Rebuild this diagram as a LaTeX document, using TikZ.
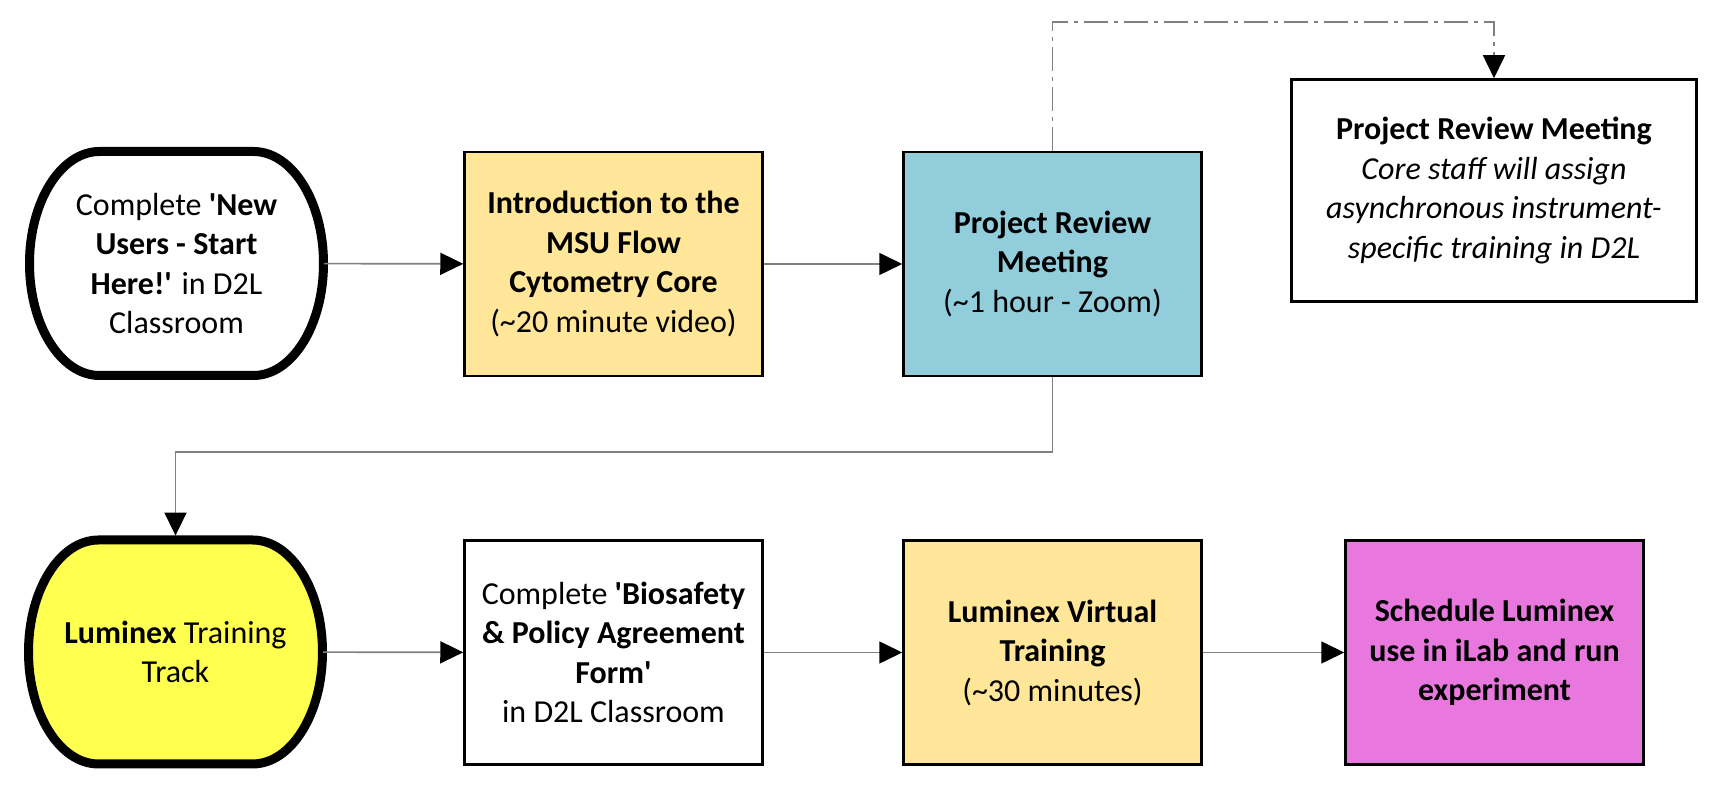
\documentclass[tikz,border=0pt]{standalone}
\usepackage{fontspec}
\setmainfont{Carlito}[Ligatures=TeXOff]
\usepackage{tikz}
\usetikzlibrary{arrows.meta}
\definecolor{introyellow}{HTML}{FFE699}
\definecolor{reviewblue}{HTML}{92CDDC}
\definecolor{trackyellow}{HTML}{FFFF4F}
\definecolor{runmagenta}{HTML}{E878DE}
\definecolor{linegray}{HTML}{808080}
\tikzstyle{box} = [rectangle, draw=black, line width=1.25pt, minimum width=149pt, minimum height=112pt, align=center, inner sep=0pt]
\tikzstyle{track} = [minimum width=147pt, minimum height=112pt, align=center, inner sep=0pt]
\tikzstyle{arrow} = [draw=linegray, line width=0.8pt, -{Triangle[length=11.5pt,width=11pt,color=black]}]
\tikzstyle{optional} = [arrow, dash pattern=on 12pt off 3pt on 2pt off 3pt]
% rounded terminal outline, drawn before its node
\newcommand{\capsule}[2]{%
  \draw[line width=4.5pt, fill=#2] #1 ++(-38.5pt,56pt) -- ++(77pt,0pt)
    arc[start angle=90, end angle=-90, x radius=35pt, y radius=56pt] -- ++(-77pt,0pt)
    arc[start angle=270, end angle=90, x radius=35pt, y radius=56pt] -- cycle;}

\begin{document}
\begin{tikzpicture}[x=0.5pt, y=0.5pt, font=\fontsize{16pt}{19.75pt}\selectfont]
    \useasboundingbox (0,0) rectangle (1713,791);

    \capsule{(176.5,527.5)}{white}
    \node[track] (start) at (176.5,527.5) {Complete \textbf{'New}\\\textbf{Users - Start}\\\textbf{Here!'} in D2L\\Classroom};
    \node[box, fill=introyellow] (intro) at (613.5,527) {\textbf{Introduction to the}\\\textbf{MSU Flow}\\\textbf{Cytometry Core}\\(\textasciitilde20 minute video)};
    \node[box, fill=reviewblue] (review) at (1052.5,527) {\textbf{Project Review}\\\textbf{Meeting}\\(\textasciitilde1 hour - Zoom)};
    \node[box, minimum width=202.5pt, minimum height=111pt, fill=white] (assign) at (1494,600.5) {\textbf{Project Review Meeting}\\\textit{Core staff will assign}\\\textit{asynchronous instrument-}\\\textit{specific training in D2L}};

    \capsule{(175.5,139)}{trackyellow}
    \node[track] (track) at (175.5,139) {\textbf{Luminex} Training\\Track};
    \node[box, fill=white] (biosafety) at (613.5,138.5) {Complete \textbf{'Biosafety}\\\textbf{\& Policy Agreement}\\\textbf{Form'}\\in D2L Classroom};
    \node[box, fill=introyellow] (virtual) at (1052.5,138.5) {\textbf{Luminex Virtual}\\\textbf{Training}\\(\textasciitilde30 minutes)};
    \node[box, fill=runmagenta] (schedule) at (1494.5,138.5) {\textbf{Schedule Luminex}\\\textbf{use in iLab and run}\\\textbf{experiment}};

    \coordinate (over) at (1052.5,769);
    \coordinate (under) at (1052.5,339);

    \path [arrow] (start) edge (intro);
    \path [arrow] (intro) edge (review);
    \draw [optional] (review.north) -- (over) -| (assign.north);
    \draw [arrow] (review.south) -- (under) -| ([yshift=2pt]track.north);
    \path [arrow] (track) edge (biosafety);
    \path [arrow] (biosafety) edge (virtual);
    \path [arrow] (virtual) edge (schedule);
\end{tikzpicture}
\end{document}
